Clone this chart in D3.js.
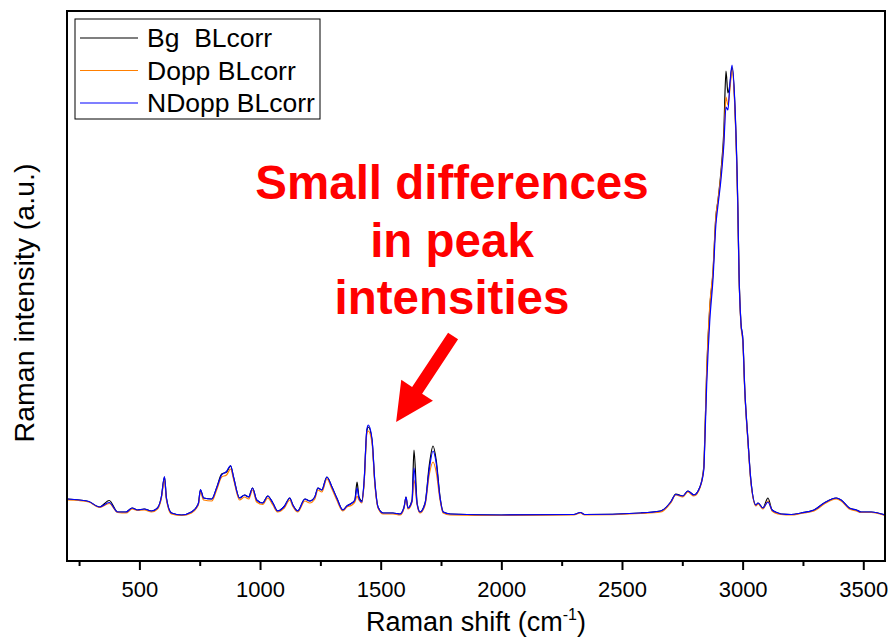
<!DOCTYPE html>
<html>
<head>
<meta charset="utf-8">
<script src="https://cdn.jsdelivr.net/npm/d3@7"></script>
<style>
  body { margin: 0; background: #fff; }
  text { font-family: Arial, "Liberation Sans", sans-serif; }
</style>
</head>
<body>
<svg id="chart" width="891" height="640"></svg>
<script>
// Raman shift (cm-1) sampled at the features of the spectra
const shift = [200, 250, 290, 335, 375, 410, 445, 470, 492, 520, 550, 575, 591, 604, 612, 633, 675, 716, 737, 745,
  753, 766, 800, 820, 841, 861, 878, 890, 915, 936, 953, 969, 986, 1011, 1032, 1053, 1073, 1102, 1123, 1136,
  1156, 1186, 1206, 1227, 1240, 1256, 1277, 1298, 1318, 1343, 1360, 1381, 1393, 1402, 1410, 1422, 1431, 1443, 1449, 1464,
  1476, 1489, 1510, 1551, 1580, 1597, 1605, 1613, 1630, 1638, 1651, 1663, 1684, 1701, 1717, 1730, 1746, 1759, 1788, 2000,
  2300, 2328, 2345, 2577, 2660, 2702, 2723, 2752, 2773, 2798, 2823, 2839, 2843, 2851, 2864, 2877, 2889, 2898, 2910, 2922,
  2931, 2939, 2947, 2956, 2968, 2980, 2985, 2993, 3001, 3009, 3022, 3034, 3055, 3064, 3084, 3105, 3122, 3147, 3159, 3201,
  3242, 3296, 3338, 3388, 3408, 3442, 3471, 3491, 3533, 3590];

// Baseline-corrected intensities (a.u.)
const bg = [320, 300, 270, 160, 290, 60, 60, 140, 100, 120, 80, 140, 360, 760, 340, 40, 0, 60, 160, 240,
  500, 340, 320, 540, 820, 860, 980, 760, 340, 400, 360, 540, 300, 240, 380, 240, 80, 180, 340, 200,
  80, 320, 280, 360, 540, 500, 760, 560, 340, 100, 180, 240, 300, 660, 360, 280, 640, 1700, 1760, 1500,
  640, 160, 40, 40, 20, 160, 360, 140, 300, 1300, 240, 60, 240, 980, 1380, 1100, 360, 60, 20, 0,
  10, 50, 10, 40, 80, 260, 420, 380, 480, 400, 560, 960, 1500, 2860, 4160, 4840, 5960, 6300, 6860, 7660,
  8880, 8440, 8600, 8960, 8160, 6160, 4840, 3840, 3500, 2500, 1500, 700, 200, 240, 140, 340, 100, 40, 20, 10,
  40, 100, 240, 340, 300, 140, 100, 60, 60, 0];

const dopp = [300, 290, 260, 150, 230, 50, 40, 120, 90, 100, 60, 120, 330, 700, 300, 20, -10, 40, 140, 220,
  460, 300, 280, 500, 760, 800, 920, 720, 300, 360, 320, 500, 260, 210, 340, 200, 60, 150, 300, 170,
  60, 280, 240, 320, 500, 460, 720, 520, 300, 80, 160, 200, 260, 380, 300, 240, 600, 1640, 1680, 1440,
  600, 140, 20, 20, 0, 140, 340, 120, 260, 700, 200, 40, 200, 800, 1060, 860, 300, 40, 0, -10,
  0, 40, 0, 30, 60, 240, 400, 360, 460, 380, 540, 940, 1480, 2900, 4200, 4880, 5960, 6300, 6800, 7500,
  8360, 8200, 8500, 8900, 8100, 6100, 4800, 3800, 3440, 2460, 1460, 660, 180, 220, 120, 280, 80, 20, 10, 0,
  30, 80, 220, 320, 280, 120, 80, 50, 50, -10];

const ndopp = [320, 300, 270, 160, 250, 60, 60, 140, 100, 120, 80, 140, 360, 770, 340, 40, 0, 60, 160, 240,
  510, 340, 320, 540, 800, 870, 990, 760, 340, 400, 360, 540, 300, 240, 380, 240, 80, 180, 340, 200,
  80, 320, 280, 360, 540, 500, 760, 560, 340, 100, 180, 240, 300, 540, 340, 260, 660, 1720, 1800, 1520,
  660, 160, 40, 40, 20, 160, 360, 140, 280, 940, 220, 60, 230, 900, 1280, 1040, 340, 60, 20, 0,
  10, 50, 10, 40, 80, 260, 410, 380, 480, 400, 560, 900, 1400, 2600, 3900, 4700, 5800, 6200, 6700, 7400,
  8160, 8100, 8600, 9000, 8200, 6200, 4840, 3840, 3500, 2500, 1500, 700, 200, 240, 140, 260, 100, 40, 20, 10,
  40, 100, 240, 340, 300, 140, 100, 60, 60, 0];

const seriesNames = ["Bg  BLcorr", "Dopp BLcorr", "NDopp BLcorr"];
const seriesValues = [bg, dopp, ndopp];
const seriesColors = ["#000000", "#FF7F00", "#0000FF"];

const xMajorTicks = [500, 1000, 1500, 2000, 2500, 3000, 3500];
const xMinorTicks = [250, 750, 1250, 1750, 2250, 2750, 3250];

const annotationLines = ["Small differences", "in peak", "intensities"];

// ---- layout ----
const svg = d3.select("#chart");
const plot = { left: 67, right: 885, top: 11, bottom: 561 };

const x = d3.scaleLinear().domain([200, 3590]).range([plot.left, plot.right]);
const y = d3.scaleLinear().domain([-920, 10080]).range([plot.bottom, plot.top]);

svg.append("defs").append("clipPath").attr("id", "plotClip")
  .append("rect")
  .attr("x", plot.left).attr("y", plot.top)
  .attr("width", plot.right - plot.left).attr("height", plot.bottom - plot.top);

// ---- spectra ----
const line = d3.line()
  .x((d, i) => x(shift[i]))
  .y(d => y(d))
  .curve(d3.curveMonotoneX);

const lines = svg.append("g").attr("clip-path", "url(#plotClip)");
seriesValues.forEach((vals, k) => {
  lines.append("path")
    .datum(vals)
    .attr("d", line)
    .attr("fill", "none")
    .attr("stroke", seriesColors[k])
    .attr("stroke-width", 1.2)
    .attr("stroke-linejoin", "round");
});

// ---- axes ----
const xAxisMajor = svg.append("g")
  .attr("transform", `translate(0,${plot.bottom})`)
  .call(d3.axisBottom(x).tickValues(xMajorTicks).tickFormat(d3.format("d")).tickSize(9).tickPadding(11));
xAxisMajor.select(".domain").remove();
xAxisMajor.selectAll(".tick line").attr("stroke", "#000").attr("stroke-width", 2);
xAxisMajor.selectAll(".tick text").attr("font-size", 22).attr("fill", "#000")
  .style("font-family", "Arial, 'Liberation Sans', sans-serif");

const xAxisMinor = svg.append("g")
  .attr("transform", `translate(0,${plot.bottom})`)
  .call(d3.axisBottom(x).tickValues(xMinorTicks).tickSize(5).tickFormat(""));
xAxisMinor.select(".domain").remove();
xAxisMinor.selectAll(".tick line").attr("stroke", "#000").attr("stroke-width", 2);

// frame
svg.append("rect")
  .attr("x", plot.left).attr("y", plot.top)
  .attr("width", plot.right - plot.left).attr("height", plot.bottom - plot.top)
  .attr("fill", "none").attr("stroke", "#000").attr("stroke-width", 2);

// axis titles
const xTitle = svg.append("text")
  .attr("x", (plot.left + plot.right) / 2).attr("y", 631)
  .attr("text-anchor", "middle").attr("font-size", 27).attr("fill", "#000");
xTitle.append("tspan").text("Raman shift (cm");
xTitle.append("tspan").attr("font-size", 16).attr("dy", -11).text("-1");
xTitle.append("tspan").attr("dy", 11).text(")");

svg.append("text")
  .attr("transform", `translate(34,${(plot.top + plot.bottom) / 2 + 17}) rotate(-90)`)
  .attr("text-anchor", "middle").attr("font-size", 28.5).attr("fill", "#000")
  .text("Raman intensity (a.u.)");

// ---- legend ----
const legend = svg.append("g");
legend.append("rect")
  .attr("x", 75).attr("y", 19).attr("width", 245).attr("height", 100)
  .attr("fill", "#fff").attr("stroke", "#000").attr("stroke-width", 1);
seriesNames.forEach((name, k) => {
  const ly = 38 + k * 32.5;
  legend.append("line")
    .attr("x1", 80).attr("x2", 138).attr("y1", ly).attr("y2", ly)
    .attr("stroke", seriesColors[k]).attr("stroke-width", 1.2);
  legend.append("text")
    .attr("x", 147).attr("y", ly + 9)
    .attr("font-size", 26.5).attr("fill", "#000")
    .style("white-space", "pre")
    .text(name);
});

// ---- annotation ----
const note = svg.append("text")
  .attr("text-anchor", "middle").attr("font-size", 47.5).attr("font-weight", "bold")
  .attr("fill", "#FF0000");
annotationLines.forEach((t, i) => {
  note.append("tspan").attr("x", 452).attr("y", 199 + i * 57.5).text(t);
});

// arrow pointing at the 1450-1750 cm-1 region, defined in data units
const arrowTail = [1800, 3580];
const arrowTip = [1564, 1860];
const p0 = [x(arrowTail[0]), y(arrowTail[1])];
const p1 = [x(arrowTip[0]), y(arrowTip[1])];
const dx = p1[0] - p0[0], dy = p1[1] - p0[1];
const len = Math.hypot(dx, dy);
const ux = dx / len, uy = dy / len;     // along the arrow
const nx = -uy, ny = ux;                // normal
const shaftHalf = 6, headHalf = 19, headLen = 38;
const hb = [p1[0] - ux * headLen, p1[1] - uy * headLen];
const pts = [
  [p0[0] + nx * shaftHalf, p0[1] + ny * shaftHalf],
  [hb[0] + nx * shaftHalf, hb[1] + ny * shaftHalf],
  [hb[0] + nx * headHalf, hb[1] + ny * headHalf],
  p1,
  [hb[0] - nx * headHalf, hb[1] - ny * headHalf],
  [hb[0] - nx * shaftHalf, hb[1] - ny * shaftHalf],
  [p0[0] - nx * shaftHalf, p0[1] - ny * shaftHalf]
];
svg.append("polygon")
  .attr("points", pts.map(p => p.join(",")).join(" "))
  .attr("fill", "#FF0000");
</script>
</body>
</html>
